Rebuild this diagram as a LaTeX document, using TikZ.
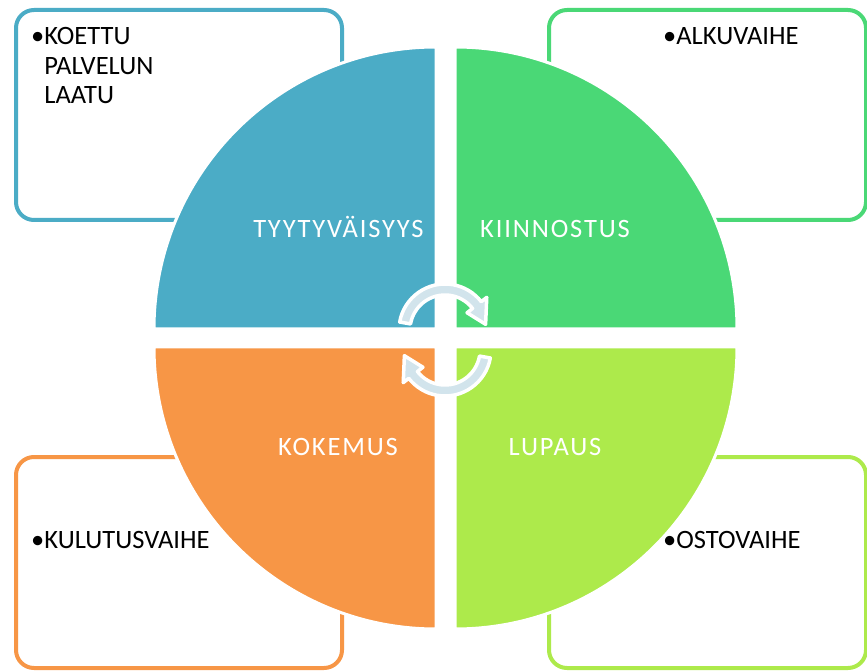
\documentclass[tikz,border=0pt]{standalone}
\usepackage{fontspec}
\setmainfont{Carlito}
\newfontfamily\labelfont[LetterSpace=7]{Carlito}
\definecolor{qblue}{RGB}{75,172,198}
\definecolor{qgreen}{RGB}{74,216,118}
\definecolor{qorange}{RGB}{247,150,70}
\definecolor{qlime}{RGB}{173,234,75}
\definecolor{arrowfill}{RGB}{210,228,236}
\begin{document}
\begin{tikzpicture}[x=1pt,y=1pt,
  infobox/.style={line width=4pt, rounded corners=18pt},
  quadrant/.style={draw=white, line width=3pt},
  qlabel/.style={anchor=base, inner sep=0pt, text=white, font=\labelfont\fontsize{26.5}{30}\selectfont},
  blabel/.style={anchor=base west, inner sep=0pt, text=black, font=\fontsize{26.5}{29.5}\selectfont},
  cyclearrow/.style={fill=arrowfill, draw=white, line width=3.5pt, line join=round}]
\useasboundingbox (0,0) rectangle (867,670);
\fill[white] (0,0) rectangle (867,670);
% side boxes
\draw[infobox, draw=qblue] (16,450) rectangle (342,660);
\draw[infobox, draw=qgreen] (549,450) rectangle (866,660);
\draw[infobox, draw=qorange] (16,2) rectangle (342,213);
\draw[infobox, draw=qlime] (549,2) rectangle (866,213);
% quadrants
\path[quadrant, fill=qblue] (436,341) -- (154,341) arc[start angle=180, end angle=90, radius=282] -- cycle;
\path[quadrant, fill=qgreen] (455,341) -- (455,623) arc[start angle=90, end angle=0, radius=282] -- cycle;
\path[quadrant, fill=qorange] (436,323) -- (154,323) arc[start angle=180, end angle=270, radius=282] -- cycle;
\path[quadrant, fill=qlime] (455,323) -- (737,323) arc[start angle=0, end angle=-90, radius=282] -- cycle;
% quadrant labels
\node[qlabel] (tyyt) at (338.5,432) {TYYTYVÄISYYS};
\node[qlabel] (kiin) at (555,432) {KIINNOSTUS};
\node[qlabel] (koke) at (338,215) {KOKEMUS};
\node[qlabel] (lupa) at (555,215) {LUPAUS};
% box texts
\node[blabel] (laatu) at (31,625) {\begin{tabular}[t]{@{}l@{}}•KOETTU\\\phantom{•}PALVELUN\\\phantom{•}LAATU\end{tabular}};
\node[blabel] (alku) at (663,625) {•ALKUVAIHE};
\node[blabel] (kulu) at (31,122) {•KULUTUSVAIHE};
\node[blabel] (osto) at (663,122) {•OSTOVAIHE};
% circular arrows
\foreach \rot in {0,180}{
\begin{scope}[shift={(445,330)}, rotate=\rot, shift={(0,10)}]
\path[cyclearrow] (170:46) arc[start angle=170, end angle=38, radius=46]
   -- (38:53) -- (8:41) -- (38:28) -- (38:35)
   arc[start angle=38, end angle=170, radius=35] -- cycle;
\end{scope}}
\end{tikzpicture}
\end{document}
